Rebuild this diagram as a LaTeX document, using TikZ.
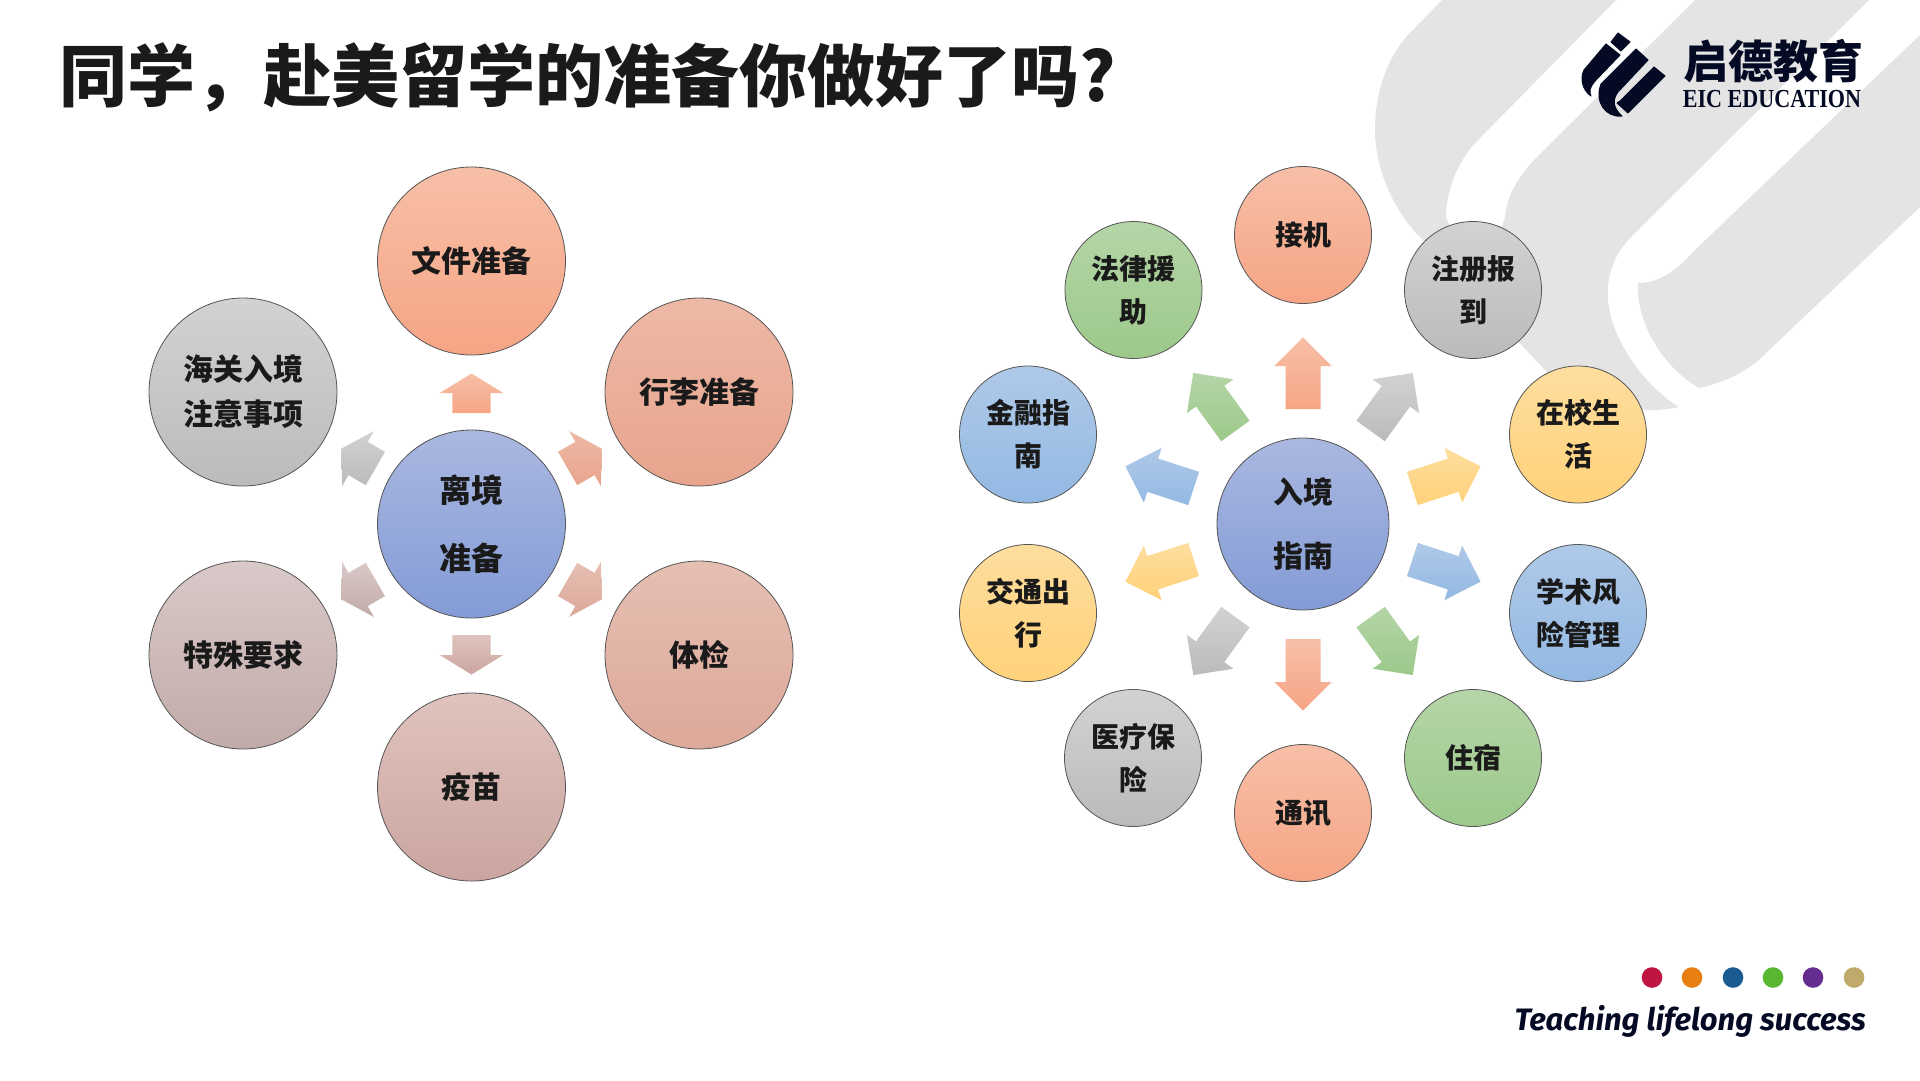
\documentclass[tikz,border=0pt]{standalone}
\usepackage{fontspec}
\usetikzlibrary{calc}
\newfontfamily\cjk{Noto Sans CJK SC}
\newfontfamily\eicfont[FakeStretch=0.85]{Liberation Serif}
\newfontfamily\tagfont{Fira Sans}
\definecolor{ink}{HTML}{1A1A1A}
\definecolor{navy}{HTML}{050A24}
\definecolor{band}{HTML}{E4E4E4}
\tikzset{
  gSalmon/.style={top color={rgb,255:red,247;green,191;blue,167},bottom color={rgb,255:red,246;green,165;blue,133}},
  gRose/.style={top color={rgb,255:red,237;green,185;blue,166},bottom color={rgb,255:red,232;green,164;blue,141}},
  gPink/.style={top color={rgb,255:red,230;green,191;blue,179},bottom color={rgb,255:red,220;green,168;blue,153}},
  gMauve/.style={top color={rgb,255:red,224;green,195;blue,189},bottom color={rgb,255:red,203;green,165;blue,160}},
  gTaupe/.style={top color={rgb,255:red,217;green,201;blue,200},bottom color={rgb,255:red,193;green,171;blue,169}},
  gGray/.style={top color={rgb,255:red,210;green,210;blue,210},bottom color={rgb,255:red,187;green,187;blue,187}},
  gCore/.style={top color={rgb,255:red,170;green,184;blue,224},bottom color={rgb,255:red,131;green,155;blue,214}},
  gGreen/.style={top color={rgb,255:red,181;green,213;blue,167},bottom color={rgb,255:red,156;green,201;blue,138}},
  gGold/.style={top color={rgb,255:red,254;green,221;blue,158},bottom color={rgb,255:red,255;green,210;blue,122}},
  gBlue/.style={top color={rgb,255:red,175;green,201;blue,232},bottom color={rgb,255:red,147;green,185;blue,227}},
  disc/.style={circle,draw={rgb,255:red,85;green,85;blue,85},line width=0.8pt,inner sep=0pt,align=center,text=ink,font=\cjk\bfseries},
  bigdisc/.style={disc,minimum size=188pt},
  coreR/.style={disc,minimum size=172pt},
  smalldisc/.style={disc,minimum size=137pt},
  leaf/.style={fill=navy,draw=navy,line width=1pt,line join=round},
}
\newcommand{\fs}[2]{\fontsize{#1}{#2}\selectfont}
% centre, angle, tail distance, length, head length, half shaft, half head, style
\newcommand{\blockarrow}[8]{%
  \begin{scope}[shift={(#1)},rotate=#2]
    \pgfmathsetmacro{\ta}{#3}\pgfmathsetmacro{\tb}{#3+#4}\pgfmathsetmacro{\tc}{#3+#4-#5}
    \path[#8] (\ta pt,-#6pt) -- (\tc pt,-#6pt) -- (\tc pt,-#7pt) -- (\tb pt,0pt) -- (\tc pt,#7pt) -- (\tc pt,#6pt) -- (\ta pt,#6pt) -- cycle;
  \end{scope}}
\begin{document}
\begin{tikzpicture}[x=1pt,y=-1pt]
\useasboundingbox (0,0) rectangle (1920,1080);
\fill[white] (0,0) rectangle (1920,1080);
% background bands
\fill[band] (1442,0) -- (1407,36) .. controls (1385,62) and (1375,95) .. (1375,130)
  .. controls (1375,170) and (1395,215) .. (1426,243) -- (1545,370)
  .. controls (1575,398) and (1630,418) .. (1679,407)
  .. controls (1650,390) and (1612,345) .. (1608,300)
  .. controls (1606,275) and (1615,255) .. (1628,240) -- (1869,0) -- (1695,0) -- (1537,157)
  .. controls (1518,177) and (1507,195) .. (1505,217) -- (1480,300) -- (1446,217)
  .. controls (1446,190) and (1458,160) .. (1478,140) -- (1616,0) -- cycle;
\fill[band] (1638,283) .. controls (1636,320) and (1660,365) .. (1699,388)
  .. controls (1725,382) and (1748,372) .. (1766,353) -- (1920,207) -- (1920,35) -- (1695,250)
  .. controls (1677,270) and (1660,283) .. (1638,283) -- cycle;
% logo
\fill[leaf] (1618,33) -- (1630,42) -- (1621,51) -- (1611,42) -- cycle;
\fill[leaf] (1606,44) -- (1620,55) -- (1596,80) .. controls (1589,88) and (1589,92) .. (1591,96)
  .. controls (1582,90) and (1580,78) .. (1584,70) -- cycle;
\fill[leaf] (1636,49) -- (1648,60) -- (1618,92) .. controls (1612,100) and (1613,108) .. (1622,116)
  .. controls (1606,118) and (1594,102) .. (1601,84) -- cycle;
\fill[leaf] (1654,67) -- (1665,76) -- (1628,113) -- (1617,103) .. controls (1622,100) and (1624,97) .. (1627,94) -- cycle;
\node[anchor=center,text=navy,inner sep=0pt,font=\cjk\bfseries\fs{45}{45}] (logotext) at (1773,61) {启德教育};
\node[anchor=center,text=navy,inner sep=0pt,font=\eicfont\bfseries\fs{26}{26}] (logoen) at (1772,99) {EIC EDUCATION};
% title
\node[anchor=west,text=ink,inner sep=0pt,font=\cjk\bfseries\fs{68}{68}] (title) at (59,77.5) {同学，赴美留学的准备你做好了吗?};
% left cluster
\node[bigdisc,gCore,font=\cjk\bfseries\fs{32}{68}] (lc) at (471.5,524) {\rule{0pt}{2pt}\raisebox{-1pt}{离境}\\\raisebox{-1pt}{准备}};
\node[bigdisc,gSalmon,font=\cjk\bfseries\fs{30}{45}] (l1) at (471.5,261) {\raisebox{-1pt}{文件准备}};
\node[bigdisc,gRose,font=\cjk\bfseries\fs{30}{45}] (l2) at (699,392) {\raisebox{-1pt}{行李准备}};
\node[bigdisc,gPink,font=\cjk\bfseries\fs{30}{45}] (l3) at (699,655) {\raisebox{-1pt}{体检}};
\node[bigdisc,gMauve,font=\cjk\bfseries\fs{30}{45}] (l4) at (471.5,787) {\raisebox{-1pt}{疫苗}};
\node[bigdisc,gTaupe,font=\cjk\bfseries\fs{30}{45}] (l5) at (243,655) {\raisebox{-1pt}{特殊要求}};
\node[bigdisc,gGray,font=\cjk\bfseries\fs{30}{45}] (l6) at (243,392) {\raisebox{-1pt}{海关入境}\\\raisebox{-1pt}{注意事项}};
\blockarrow{lc}{90}{111}{39.5}{19.5}{19.2}{31.7}{gSalmon}
\blockarrow{lc}{30}{111}{39.5}{19.5}{19.2}{31.7}{gRose}
\blockarrow{lc}{-30}{111}{39.5}{19.5}{19.2}{31.7}{gPink}
\blockarrow{lc}{-90}{111}{39.5}{19.5}{19.2}{31.7}{gMauve}
\blockarrow{lc}{-150}{111}{39.5}{19.5}{19.2}{31.7}{gTaupe}
\blockarrow{lc}{150}{111}{39.5}{19.5}{19.2}{31.7}{gGray}
% right cluster
\node[coreR,gCore,font=\cjk\bfseries\fs{30}{64}] (rc) at (1303,524) {\raisebox{-1pt}{入境}\\\raisebox{-1pt}{指南}};
\node[smalldisc,gSalmon,font=\cjk\bfseries\fs{28}{43}] (r1) at (1303,235) {\raisebox{-1pt}{接机}};
\node[smalldisc,gGray,font=\cjk\bfseries\fs{28}{43}] (r2) at (1473,290) {\raisebox{-1pt}{注册报}\\\raisebox{-1pt}{到}};
\node[smalldisc,gGold,font=\cjk\bfseries\fs{28}{43}] (r3) at (1578,434.5) {\raisebox{-1pt}{在校生}\\\raisebox{-1pt}{活}};
\node[smalldisc,gBlue,font=\cjk\bfseries\fs{28}{43}] (r4) at (1578,613) {\raisebox{-1pt}{学术风}\\\raisebox{-1pt}{险管理}};
\node[smalldisc,gGreen,font=\cjk\bfseries\fs{28}{43}] (r5) at (1473,758) {\raisebox{-1pt}{住宿}};
\node[smalldisc,gSalmon,font=\cjk\bfseries\fs{28}{43}] (r6) at (1303,813) {\raisebox{-1pt}{通讯}};
\node[smalldisc,gGray,font=\cjk\bfseries\fs{28}{43}] (r7) at (1133,758) {\raisebox{-1pt}{医疗保}\\\raisebox{-1pt}{险}};
\node[smalldisc,gGold,font=\cjk\bfseries\fs{28}{43}] (r8) at (1028,613) {\raisebox{-1pt}{交通出}\\\raisebox{-1pt}{行}};
\node[smalldisc,gBlue,font=\cjk\bfseries\fs{28}{43}] (r9) at (1028,434.5) {\raisebox{-1pt}{金融指}\\\raisebox{-1pt}{南}};
\node[smalldisc,gGreen,font=\cjk\bfseries\fs{28}{43}] (r10) at (1133.5,290) {\raisebox{-1pt}{法律援}\\\raisebox{-1pt}{助}};
\blockarrow{rc}{90}{115}{71.7}{28.7}{17.5}{28.7}{gSalmon}
\blockarrow{rc}{54}{115}{71.7}{28.7}{17.5}{28.7}{gGray}
\blockarrow{rc}{18}{115}{71.7}{28.7}{17.5}{28.7}{gGold}
\blockarrow{rc}{-18}{115}{71.7}{28.7}{17.5}{28.7}{gBlue}
\blockarrow{rc}{-54}{115}{71.7}{28.7}{17.5}{28.7}{gGreen}
\blockarrow{rc}{-90}{115}{71.7}{28.7}{17.5}{28.7}{gSalmon}
\blockarrow{rc}{-126}{115}{71.7}{28.7}{17.5}{28.7}{gGray}
\blockarrow{rc}{-162}{115}{71.7}{28.7}{17.5}{28.7}{gGold}
\blockarrow{rc}{162}{115}{71.7}{28.7}{17.5}{28.7}{gBlue}
\blockarrow{rc}{126}{115}{71.7}{28.7}{17.5}{28.7}{gGreen}
% footer
\foreach \xx/\cc in {1652/BE1640,1692/E67E12,1733/1A5C92,1773/58B631,1813/662D91,1854/BFAA6B}{
  \definecolor{dotc}{HTML}{\cc}
  \fill[dotc] (\xx,977.5) circle[radius=10.3pt];
}
\node[anchor=east,text=navy,inner sep=0pt,font=\tagfont\bfseries\itshape\fs{31}{31}] (tag) at (1866,1021) {Teaching lifelong success};
\end{tikzpicture}
\end{document}
